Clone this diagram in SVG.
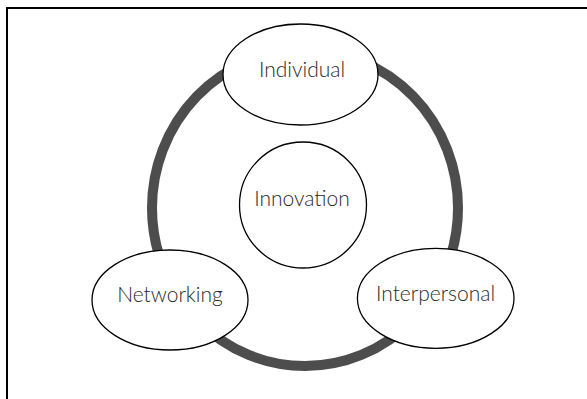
<svg xmlns="http://www.w3.org/2000/svg" width="587" height="399" viewBox="0 0 587 399">
  <style>
    .frame { stroke: #000; stroke-width: 2; fill: none; }
    .ring { stroke: #4d4d4d; stroke-width: 10; fill: none; }
    .node { fill: #fff; stroke: #000; stroke-width: 1.3; }
    .label { font-family: "Lato", "Open Sans", "Liberation Sans", sans-serif; font-weight: 300; font-size: 21px; fill: #2a2a2a; text-anchor: middle; }
  </style>
  <rect x="0" y="0" width="587" height="399" fill="#fff"/>
  <g id="frame">
    <line class="frame" x1="7" y1="8" x2="587" y2="8"/>
    <line class="frame" x1="7" y1="7" x2="7" y2="399"/>
  </g>
  <g id="connectors">
    <ellipse class="ring" cx="305" cy="208" rx="153" ry="158"/>
  </g>
  <g id="individual">
    <ellipse class="node" cx="300.5" cy="74.5" rx="77.5" ry="50.5"/>
    <text class="label" x="302" y="77">Individual</text>
  </g>
  <g id="innovation">
    <ellipse class="node" cx="303" cy="205" rx="63.5" ry="63"/>
    <text class="label" x="302" y="206">Innovation</text>
  </g>
  <g id="networking">
    <ellipse class="node" cx="170" cy="300" rx="78" ry="50"/>
    <text class="label" x="170" y="302">Networking</text>
  </g>
  <g id="interpersonal">
    <ellipse class="node" cx="435.7" cy="298.3" rx="78.3" ry="50"/>
    <text class="label" x="435.5" y="301">Interpersonal</text>
  </g>
</svg>
